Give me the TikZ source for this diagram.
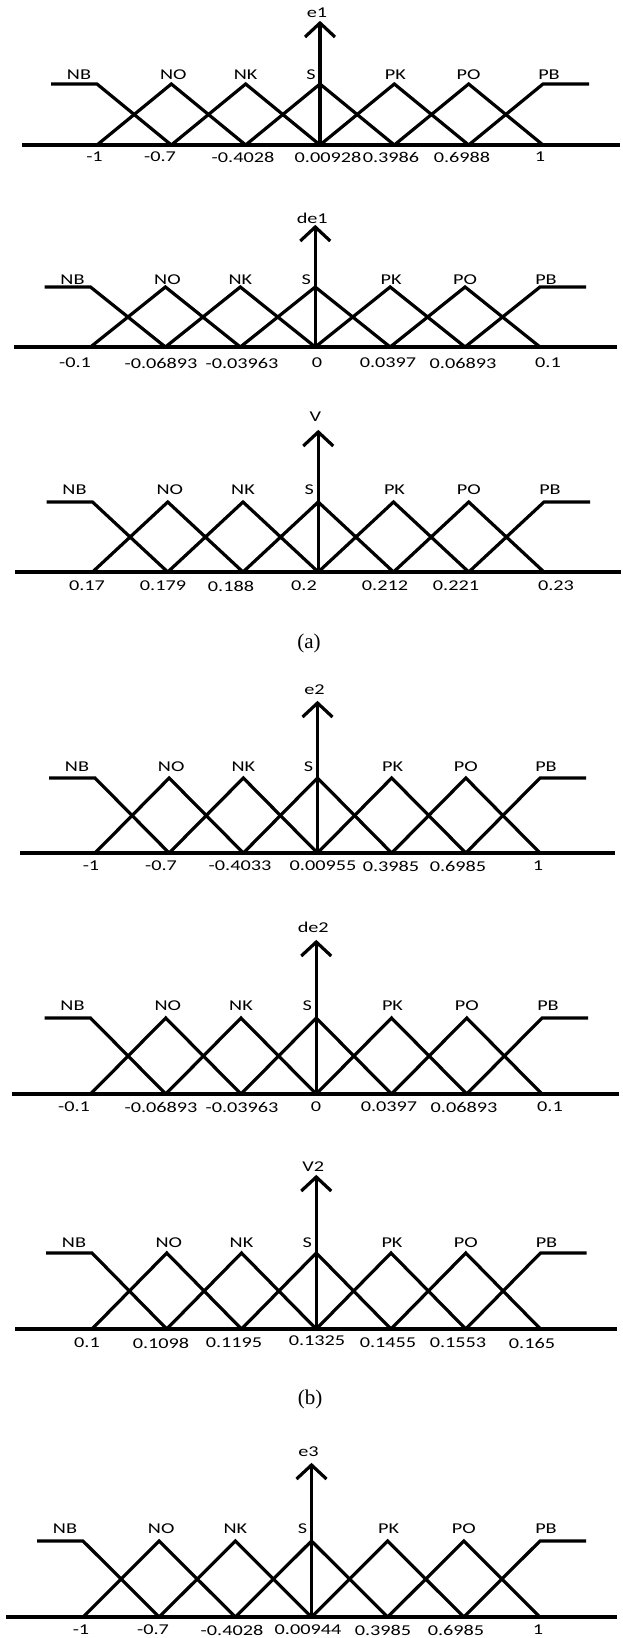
\documentclass[tikz,border=0pt]{standalone}
\usepackage{fontspec}
\newfontfamily\labfont[FakeStretch=1.35]{Carlito}
\newfontfamily\capfont{Liberation Serif}
\tikzset{
  mf/.style={line width=3.2pt, line join=miter, line cap=butt},
  lab/.style={font=\labfont\fontsize{15}{18}\selectfont, inner sep=0pt, anchor=center},
  capt/.style={font=\capfont\fontsize{21}{25}\selectfont, inner sep=0pt, anchor=center},
}
\def\lbloff{11}
% #1 id, #2 xL, #3 xR, #4 y axis, #5 h, #6 axis left, #7 axis right, #8 title, #9 title y
\newcommand\mfpanel[9]{%
  \pgfmathsetmacro\dd{(#3-#2)/6}%
  \pgfmathsetmacro\xV{(#2+#3)/2}%
  \pgfmathsetmacro\yT{#4-#5}%
  \pgfmathsetmacro\yTip{#4-2*#5}%
  \pgfmathsetmacro\yL{\yT-\lbloff}%
  \draw[mf] (#6,#4) -- (#7,#4);
  \draw[mf] (#2-46,\yT) -- (#2,\yT) -- (#2+\dd,#4);
  \foreach \k in {0,...,4} {\draw[mf] (#2+\k*\dd,#4) -- (#2+\k*\dd+\dd,\yT) -- (#2+\k*\dd+2*\dd,#4);}
  \draw[mf] (#3-\dd,#4) -- (#3,\yT) -- (#3+46,\yT);
  \draw[mf] (\xV,#4) -- (\xV,\yTip);
  \draw[mf] (\xV-15,\yTip+14) -- (\xV,\yTip) -- (\xV+15,\yTip+14);
  \node[lab] (#1title) at (\xV-3,#9) {#8};
  \node[lab] (#1NB) at (#2-18,\yL) {NB};
  \node[lab] (#1NO) at (#2+\dd+2,\yL) {NO};
  \node[lab] (#1NK) at (#2+2*\dd,\yL) {NK};
  \node[lab] (#1S)  at (\xV-9,\yL) {S};
  \node[lab] (#1PK) at (#2+4*\dd+1,\yL) {PK};
  \node[lab] (#1PO) at (#2+5*\dd,\yL) {PO};
  \node[lab] (#1PB) at (#3+6,\yL) {PB};
}
% #1 id, #2 y, #3 list x/text
\newcommand\mfnums[3]{%
  \foreach \xx/\tt [count=\i] in {#3} {\node[lab] (#1num\i) at (\xx,#2) {\tt};}
}
\begin{document}
\begin{tikzpicture}[x=1pt,y=-1pt]
\useasboundingbox (0,0) rectangle (623,1638);
\fill[white] (0,0) rectangle (623,1638);
% panel 1: e1
\def\lbloff{9}
\mfpanel{pA}{97}{543}{145}{61}{22}{620}{e1}{13}
\mfnums{pA}{157}{94.5/-1,160/-0.7,243/-0.4028,328/0.00928,391/0.3986,462/0.6988,540/1}
% panel 2: de1
\def\lbloff{7}
\mfpanel{pB}{90.5}{540}{347}{60}{14}{617}{de1}{218}
\mfnums{pB}{363}{75/-0.1,161/-0.06893,242/-0.03963,317/0,388/0.0397,463/0.06893,548/0.1}
% panel 3: V
\def\lbloff{12}
\mfpanel{pC}{92.5}{544}{572}{70}{15}{621}{V}{417}
\mfnums{pC}{586}{87/0.17,163/0.179,231/0.188,304/0.2,385/0.212,456/0.221,556/0.23}
\node[capt] (capA) at (309,643) {(a)};
% panel 4: e2
\def\lbloff{11}
\mfpanel{pD}{95}{540}{853}{75}{20}{615}{e2}{690}
\mfnums{pD}{866}{91/-1,161/-0.7,240/-0.4033,323/0.00955,391/0.3985,458/0.6985,538/1}
% panel 5: de2
\def\lbloff{12}
\mfpanel{pE}{90.5}{542}{1094}{76}{12}{619}{de2}{927}
\mfnums{pE}{1107}{74/-0.1,161/-0.06893,242/-0.03963,316/0,389/0.0397,464/0.06893,550/0.1}
% panel 6: V2
\def\lbloff{10}
\mfpanel{pF}{92}{540.5}{1329}{76}{15}{617}{V2}{1167}
\mfnums{pF}{1343}{87/0.1,161/0.1098,234/0.1195,388/0.1455,458/0.1553,532/0.165}
\node[lab] (pFmid) at (317,1341) {0.1325};
\node[capt] (capB) at (310,1399) {(b)};
% panel 7: e3
\def\lbloff{12}
\mfpanel{pG}{83}{540}{1617}{76}{6}{617}{e3}{1452}
\mfnums{pG}{1630}{81/-1,153/-0.7,232/-0.4028,308/0.00944,383/0.3985,456/0.6985,538/1}
\end{tikzpicture}
\end{document}
